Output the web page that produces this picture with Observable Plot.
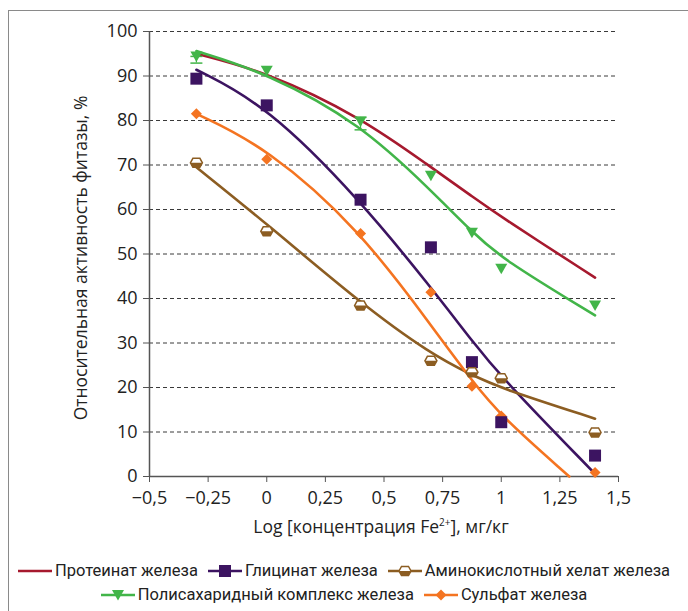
<!DOCTYPE html>
<html><head><meta charset="utf-8">
<script src="https://cdn.jsdelivr.net/npm/d3@7"></script>
<script src="https://cdn.jsdelivr.net/npm/@observablehq/plot@0.6"></script>
<style>
body{margin:0;background:#fff;}
#wrap{position:relative;width:688px;height:611px;overflow:hidden;font-family:"Open Sans",sans-serif;color:#222;background:#fff}
#frame{position:absolute;left:8px;top:10px;width:700px;height:620px;border-left:1.5px solid #8a8a8a;border-top:1.5px solid #8a8a8a}
#chart{position:absolute;left:0;top:0}
.ytitle{position:absolute;left:80px;top:258px;transform:translate(-50%,-50%) rotate(-90deg);white-space:nowrap;font-size:17.5px}
.xtitle{position:absolute;left:381px;top:526px;transform:translate(-50%,-50%);white-space:nowrap;font-size:17.5px}
.xtitle sup{font-size:10px;vertical-align:7px}
.legend{position:absolute;left:0;width:688px;display:flex;justify-content:center;align-items:center;font-family:"Roboto",sans-serif;font-size:16.5px;color:#222;white-space:nowrap}
.item{display:flex;align-items:center;margin:0 5px}
.item svg{margin-right:3px}
</style>
</head><body>
<div id="wrap">
<div id="frame"></div>
<div id="chart"></div>
<div class="ytitle">Относительная активность фитазы, %</div>
<div class="xtitle">Log [концентрация Fe<sup>2+</sup>], мг/кг</div>
<div class="legend" id="leg1" style="top:561px"></div>
<div class="legend" id="leg2" style="top:585px"></div>
</div>
<script>
// ---- data ----
const xPoints = [-0.3, 0, 0.4, 0.7, 0.875, 1, 1.4];
const seriesNames = ["Протеинат железа", "Глицинат железа", "Аминокислотный хелат железа", "Полисахаридный комплекс железа", "Сульфат железа"];
const seriesColors = ["#a6192e", "#3c1461", "#8c5d22", "#42b549", "#f47421"];

// measured points (markers)
const glycinatePts = [89.4, 83.4, 62.2, 51.5, 25.7, 12.2, 4.7];
const chelatePts   = [70.5, 55.1, 38.4, 26.0, 23.4, 22.1, 9.9];
const polysaccPts  = [94.4, 91.2, 79.8, 67.6, 54.8, 46.7, 38.4];
const sulfatePts   = [81.5, 71.3, 54.6, 41.4, 20.3, 13.6, 0.9];

// trend lines
const fitX        = [-0.3, 0, 0.4, 0.7, 0.875, 1, 1.4];
const proteinFit  = [95.0, 90.9, 80.8, 69.5, 63.0, 58.3, 44.7];
const glycinateFit= [91.4, 83.4, 62.0, 42.5, 30.5, 22.3, 0.6];
const chelateFit  = [69.5, 56.8, 38.9, 27.5, 22.8, 19.8, 13.0];
const polysaccFit = [95.6, 90.7, 79.3, 64.3, 55.0, 49.0, 36.2];
const sulfateFitX = [-0.3, 0, 0.4, 0.7, 0.875, 1, 1.29];
const sulfateFit  = [81.5, 74.0, 55.3, 34.0, 21.5, 13.5, 0.0];

// error bars (polysaccharide complex)
const errX  = [-0.3, 0.4];
const errLo = [92.9, 77.9];
const errHi = [94.4, 80.7];

const xTicks = [-0.5, -0.25, 0, 0.25, 0.5, 0.75, 1, 1.25, 1.5];
const yTicks = [0, 10, 20, 30, 40, 50, 60, 70, 80, 90, 100];

// ---- symbols ----
const symSquare = {draw(c){c.moveTo(-6,-6);c.lineTo(6,-6);c.lineTo(6,6);c.lineTo(-6,6);c.closePath();}};
const symTri = {draw(c){c.moveTo(-6,-5);c.lineTo(6,-5);c.lineTo(0,5.5);c.closePath();}};
const symDiamond = {draw(c){c.moveTo(0,-5.5);c.lineTo(5.5,0);c.lineTo(0,5.5);c.lineTo(-5.5,0);c.closePath();}};
const symHex = {draw(c){c.moveTo(-6,0);c.lineTo(-3.5,-4.5);c.lineTo(3.5,-4.5);c.lineTo(6,0);c.lineTo(3.5,4.5);c.lineTo(-3.5,4.5);c.closePath();}};
const symHexBottom = {draw(c){c.moveTo(-6,0);c.lineTo(6,0);c.lineTo(3.5,4.5);c.lineTo(-3.5,4.5);c.closePath();}};
const symCap = {draw(c){c.moveTo(-6,0);c.lineTo(6,0);}};

const toRows = (xs, ys) => xs.map((x, i) => ({x, y: ys[i]}));
const fmt = d => String(d).replace(".", ",").replace("-", "\u2212");

const fits = [
  [fitX, proteinFit, 0], [fitX, glycinateFit, 1], [fitX, chelateFit, 2],
  [fitX, polysaccFit, 3], [sulfateFitX, sulfateFit, 4]
];

const marks = [
  Plot.gridY(yTicks.filter(d => d > 0), {stroke: "#3a3a3a", strokeOpacity: 1, strokeWidth: 1, strokeDasharray: "4,3"}),
  Plot.axisY({ticks: yTicks, tickSize: 6, tickPadding: 6, fontSize: 18, label: null, stroke: "#555", fill: "#222"}),
  Plot.axisX({ticks: xTicks, tickFormat: fmt, tickSize: 6, tickPadding: 9, fontSize: 18, label: null, stroke: "#555", fill: "#222"}),
  Plot.ruleX([-0.5], {stroke: "#555", strokeWidth: 1.5}),
  Plot.ruleY([0], {stroke: "#555", strokeWidth: 1.5}),
  ...fits.map(([xs, ys, k]) => Plot.line(toRows(xs, ys), {x: "x", y: "y", stroke: seriesColors[k], strokeWidth: 2.6, curve: "basis"})),
  Plot.ruleX(errX.map((x, i) => ({x, lo: errLo[i], hi: errHi[i]})), {x: "x", y1: "lo", y2: "hi", stroke: seriesColors[3], strokeWidth: 1.2}),
  Plot.dot(toRows(errX, errLo), {x: "x", y: "y", symbol: symCap, stroke: seriesColors[3], strokeWidth: 1.5}),
  Plot.dot(toRows(errX, errHi), {x: "x", y: "y", symbol: symCap, stroke: seriesColors[3], strokeWidth: 1.5}),
  Plot.dot(toRows(xPoints, sulfatePts), {x: "x", y: "y", symbol: symDiamond, fill: seriesColors[4], stroke: "none"}),
  Plot.dot(toRows(xPoints, glycinatePts), {x: "x", y: "y", symbol: symSquare, fill: seriesColors[1], stroke: "none"}),
  Plot.dot(toRows(xPoints, chelatePts), {x: "x", y: "y", symbol: symHex, fill: "white", stroke: seriesColors[2], strokeWidth: 1.5}),
  Plot.dot(toRows(xPoints, chelatePts), {x: "x", y: "y", symbol: symHexBottom, fill: seriesColors[2], stroke: "none"}),
  Plot.dot(toRows(xPoints, polysaccPts), {x: "x", y: "y", symbol: symTri, fill: seriesColors[3], stroke: "none"})
];

const chart = Plot.plot({
  width: 688, height: 540,
  marginLeft: 149, marginRight: 70, marginTop: 31, marginBottom: 64,
  x: {domain: [-0.5, 1.5]},
  y: {domain: [0, 100]},
  style: {background: "transparent", fontFamily: "'Open Sans', sans-serif", overflow: "visible"},
  marks
});
document.getElementById("chart").appendChild(chart);

// ---- legend ----
function swatch(k, sym) {
  const c = seriesColors[k];
  let inner = `<line x1="0" y1="8" x2="34" y2="8" stroke="${c}" stroke-width="2.6"/>`;
  if (sym === "sq") inner += `<rect x="11" y="2" width="12" height="12" fill="${c}"/>`;
  if (sym === "hex") inner += `<path d="M11,8L13.5,3.5L20.5,3.5L23,8L20.5,12.5L13.5,12.5Z" fill="white" stroke="${c}" stroke-width="1.5"/><path d="M11,8L23,8L20.5,12.5L13.5,12.5Z" fill="${c}"/>`;
  if (sym === "tri") inner += `<path d="M11,3L23,3L17,13.5Z" fill="${c}"/>`;
  if (sym === "dia") inner += `<path d="M17,2.5L22.5,8L17,13.5L11.5,8Z" fill="${c}"/>`;
  return `<svg width="34" height="16">${inner}</svg>`;
}
const leg1 = [[0, null], [1, "sq"], [2, "hex"]];
const leg2 = [[3, "tri"], [4, "dia"]];
document.getElementById("leg1").innerHTML = leg1.map(([k, s]) => `<span class="item">${swatch(k, s)}${seriesNames[k]}</span>`).join("");
document.getElementById("leg2").innerHTML = leg2.map(([k, s]) => `<span class="item">${swatch(k, s)}${seriesNames[k]}</span>`).join("");
</script>
</body></html>
